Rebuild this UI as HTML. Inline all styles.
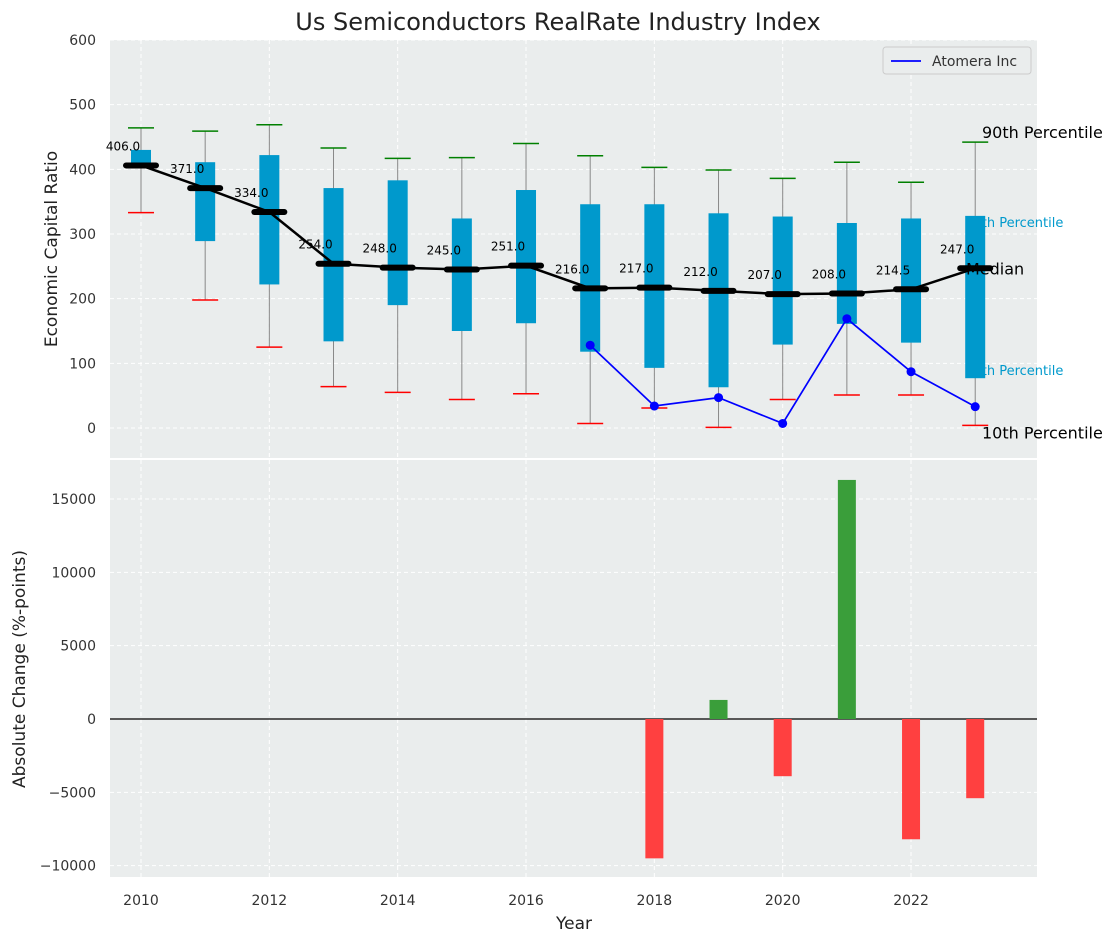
<!DOCTYPE html>
<html><head><meta charset="utf-8"><style>
body{margin:0;background:#fff;font-family:"Liberation Sans","DejaVu Sans",sans-serif}
</style></head><body>
<svg id="chart" width="1117" height="942" xmlns="http://www.w3.org/2000/svg" font-family="DejaVu Sans, Liberation Sans, sans-serif"></svg>
<script>
const years=[2010,2011,2012,2013,2014,2015,2016,2017,2018,2019,2020,2021,2022,2023];
const q1=[405,289,222,134,190,150,162,118,93,63,129,161,132,77];
const q3=[430,411,422,371,383,324,368,346,346,332,327,317,324,328];
const medians=[406,371,334,254,248,245,251,216,217,212,207,208,214.5,247];
const p90=[464,459,469,433,417,418,440,421,403,399,386,411,380,442];
const p10=[333,198,125,64,55,44,53,7,31,1,44,51,51,4];
const compYears=[2017,2018,2019,2020,2021,2022,2023];
const compValues=[128,34,47,7,169,87,33];
const changeYears=[2018,2019,2020,2021,2022,2023];
const changeValues=[-9500,1300,-3900,16300,-8200,-5400];
const topTicks=[0,100,200,300,400,500,600];
const botTicks=[-10000,-5000,0,5000,10000,15000];
const xTicks=[2010,2012,2014,2016,2018,2020,2022];

const svg=document.getElementById('chart');
const NS='http://www.w3.org/2000/svg';
function el(tag,attrs,parent,text){const e=document.createElementNS(NS,tag);for(const k in attrs)e.setAttribute(k,attrs[k]);if(text!==undefined)e.textContent=text;(parent||svg).appendChild(e);return e;}
const L=110,R=1037;
const xs=y=>141+(y-2010)*64.17;
const yt=v=>428-v*0.6467;
const yb=v=>719-v*0.014667;

let p=el('rect',{x:L,y:40,width:R-L,height:418,fill:'#eaeded'});

p=el('rect',{x:L,y:460,width:R-L,height:417,fill:'#eaeded'});


topTicks.forEach(t=>{el('line',{x1:L,x2:R,y1:yt(t),y2:yt(t),stroke:'#fff','stroke-dasharray':'4,3'});
 const tx=el('text',{x:L-14,y:yt(t)+5,'text-anchor':'end','font-size':14,fill:'#333'},svg,t);
 });
botTicks.forEach(t=>{el('line',{x1:L,x2:R,y1:yb(t),y2:yb(t),stroke:'#fff','stroke-dasharray':'4,3'});
 const tx=el('text',{x:L-14,y:yb(t)+5,'text-anchor':'end','font-size':14,fill:'#333'},svg,(t<0?'\u2212'+(-t):t));
 });
xTicks.forEach(t=>{el('line',{x1:xs(t),x2:xs(t),y1:40,y2:458,stroke:'#fff','stroke-dasharray':'4,3'});
 el('line',{x1:xs(t),x2:xs(t),y1:460,y2:877,stroke:'#fff','stroke-dasharray':'4,3'});
 const tx=el('text',{x:xs(t),y:905,'text-anchor':'middle','font-size':14,fill:'#333'},svg,t);
 });

const last=years.length-1;
[['75th Percentile',yt(q3[last])+11],['25th Percentile',yt(q1[last])-3]].forEach(([s,yy])=>{
 const t=el('text',{x:xs(2023)-10,y:yy,'font-size':13,fill:'#0099cc'},svg,s);
 });

years.forEach((y,i)=>{
 const x=xs(y);
 el('line',{x1:x,x2:x,y1:yt(p90[i]),y2:yt(p10[i]),stroke:'#888','stroke-width':1});
 let c=el('line',{x1:x-13,x2:x+13,y1:yt(p90[i]),y2:yt(p90[i]),stroke:'green','stroke-width':1.5});
 
 c=el('line',{x1:x-13,x2:x+13,y1:yt(p10[i]),y2:yt(p10[i]),stroke:'red','stroke-width':1.5});
 
 const b=el('rect',{x:x-10,y:yt(q3[i]),width:20,height:yt(q1[i])-yt(q3[i]),fill:'#0099cc'});
 
});
const ml=el('polyline',{points:years.map((y,i)=>xs(y)+','+yt(medians[i])).join(' '),fill:'none',stroke:'#000','stroke-width':2.5});

years.forEach((y,i)=>{
 const m=el('line',{x1:xs(y)-15,x2:xs(y)+15,y1:yt(medians[i]),y2:yt(medians[i]),stroke:'#000','stroke-width':6,'stroke-linecap':'round'});
 
 const t=el('text',{x:xs(y)-18,y:yt(medians[i])-15,'text-anchor':'middle','font-size':12,fill:'#000'},svg,medians[i].toFixed(1));
 
});
const cl=el('polyline',{points:compYears.map((y,i)=>xs(y)+','+yt(compValues[i])).join(' '),fill:'none',stroke:'blue','stroke-width':1.7});

compYears.forEach((y,i)=>{const c=el('circle',{cx:xs(y),cy:yt(compValues[i]),r:4.5,fill:'blue'});
 });

let t=el('text',{x:982,y:yt(p90[last])-4,'font-size':16,fill:'#000'},svg,'90th Percentile');
t=el('text',{x:966,y:yt(medians[last])+6,'font-size':16,fill:'#000'},svg,'Median');
t=el('text',{x:982,y:yt(p10[last])+13,'font-size':16,fill:'#000'},svg,'10th Percentile');

const lg=el('g',{});
el('rect',{x:883,y:47,width:148,height:27,rx:3,fill:'#eaeded',stroke:'#ccc'},lg);
el('line',{x1:891,x2:921,y1:61,y2:61,stroke:'blue','stroke-width':1.7},lg);
el('text',{x:932,y:66,'font-size':14,fill:'#333'},lg,'Atomera Inc');

el('line',{x1:L,x2:R,y1:yb(0),y2:yb(0),stroke:'#000','stroke-width':1.2});
changeYears.forEach((y,i)=>{const v=changeValues[i];
 const b=el('rect',{x:xs(y)-9,y:Math.min(yb(v),yb(0)),width:18,height:Math.abs(yb(v)-yb(0)),fill:v>=0?'#3a9e3a':'#ff4040'});
 });

t=el('text',{x:558,y:30,'text-anchor':'middle','font-size':24,fill:'#222'},svg,'Us Semiconductors RealRate Industry Index');
t=el('text',{x:0,y:0,'text-anchor':'middle','font-size':17,fill:'#222',transform:'translate(57,249) rotate(-90)'},svg,'Economic Capital Ratio');
t=el('text',{x:0,y:0,'text-anchor':'middle','font-size':17,fill:'#222',transform:'translate(25,669) rotate(-90)'},svg,'Absolute Change (%-points)');
t=el('text',{x:574,y:929,'text-anchor':'middle','font-size':17,fill:'#222'},svg,'Year');
</script>
</body></html>
